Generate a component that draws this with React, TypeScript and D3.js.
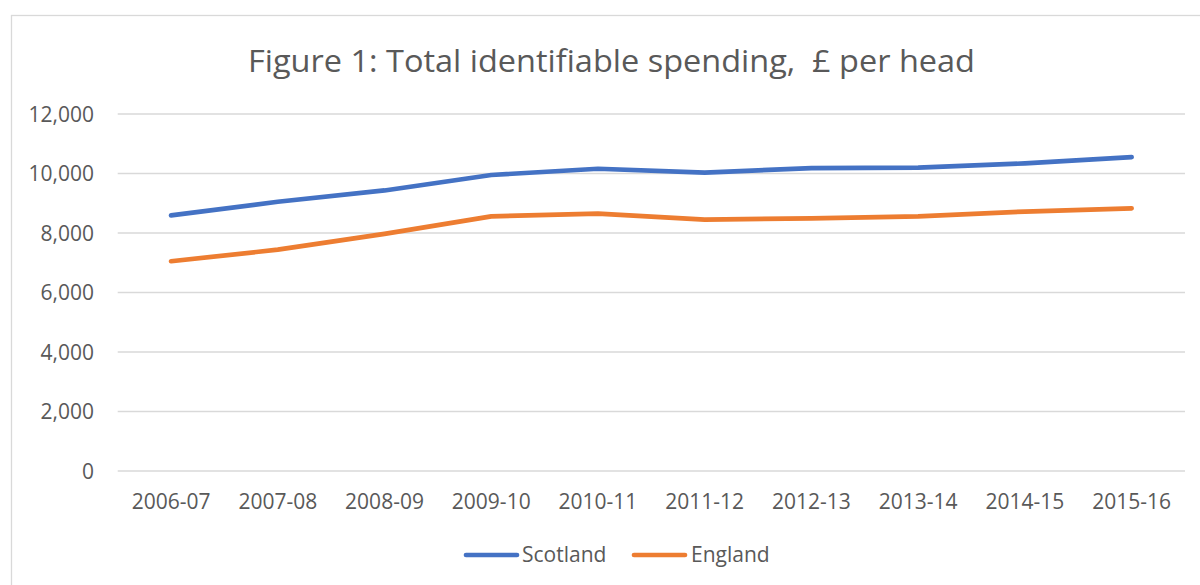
import React from "react";
import * as d3 from "d3";

const categories = ["2006-07", "2007-08", "2008-09", "2009-10", "2010-11", "2011-12", "2012-13", "2013-14", "2014-15", "2015-16"];
const scotland = [8590, 9050, 9430, 9950, 10160, 10030, 10180, 10200, 10340, 10550];
const england = [7050, 7440, 7970, 8560, 8650, 8450, 8490, 8560, 8720, 8830];
const yTicks = [0, 2000, 4000, 6000, 8000, 10000, 12000];
const seriesNames = ["Scotland", "England"];
const seriesColors = ["#4472C4", "#ED7D31"];
const title = "Figure 1: Total identifiable spending,  £ per head";

const W = 1200;
const H = 585;
const FONT = "'Open Sans', sans-serif";
const TEXT = "#595959";
const GRID = "#d9d9d9";

export default function App() {
  const x = d3.scaleBand<string>().domain(categories).range([117.7, 1185]).paddingInner(0).paddingOuter(0);
  const y = d3.scaleLinear().domain([0, 12000]).range([471, 114]);
  const cx = (c: string) => (x(c) ?? 0) + x.bandwidth() / 2;
  const line = d3
    .line<number>()
    .x((_, i) => cx(categories[i]))
    .y((d) => y(d));
  const data = [scotland, england];
  const fmt = d3.format(",");

  const legendItems = [
    { lx: 464, tx: 522 },
    { lx: 632, tx: 691 },
  ];

  return (
    <div style={{ position: "absolute", left: 0, top: 0 }}>
      <svg width={W} height={H} style={{ display: "block" }}>
        <rect x={0} y={0} width={W} height={H} fill="#fff" />
        <rect x={11.5} y={15.5} width={W} height={H} fill="#fff" stroke={GRID} strokeWidth={1.3} />
        <text
          x={611.5}
          y={72}
          textAnchor="middle"
          fontFamily={FONT}
          fontSize={31}
          fill={TEXT}
          textLength={727}
          lengthAdjust="spacingAndGlyphs"
          style={{ whiteSpace: "pre" }}
        >
          {title}
        </text>
        {yTicks.map((t) => (
          <g key={t}>
            <line x1={117.7} x2={1185} y1={y(t)} y2={y(t)} stroke={GRID} strokeWidth={1.3} />
            <text x={94} y={y(t) + 7.7} textAnchor="end" fontFamily={FONT} fontSize={21} fill={TEXT}>
              {fmt(t)}
            </text>
          </g>
        ))}
        {categories.map((c) => (
          <text key={c} x={cx(c)} y={509} textAnchor="middle" fontFamily={FONT} fontSize={21} fill={TEXT}>
            {c}
          </text>
        ))}
        {data.map((d, i) => (
          <path
            key={seriesNames[i]}
            d={line(d) ?? ""}
            fill="none"
            stroke={seriesColors[i]}
            strokeWidth={4.7}
            strokeLinecap="round"
            strokeLinejoin="round"
          />
        ))}
        {seriesNames.map((n, i) => (
          <g key={n}>
            <line
              x1={legendItems[i].lx + 2}
              x2={legendItems[i].lx + 53}
              y1={555}
              y2={555}
              stroke={seriesColors[i]}
              strokeWidth={4.7}
              strokeLinecap="round"
            />
            <text x={legendItems[i].tx} y={562} fontFamily={FONT} fontSize={21} fill={TEXT}>
              {n}
            </text>
          </g>
        ))}
      </svg>
    </div>
  );
}
